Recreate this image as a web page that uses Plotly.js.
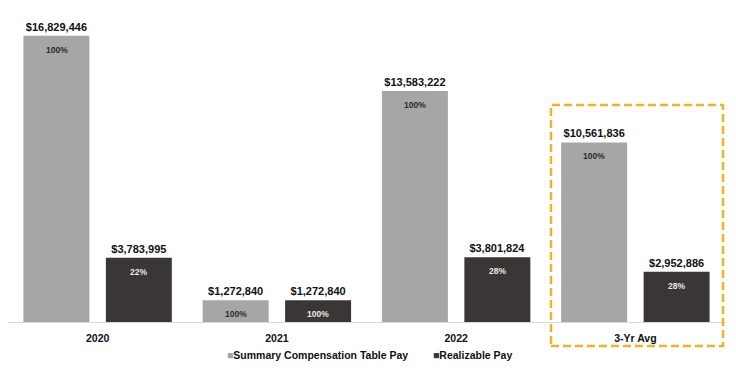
<!DOCTYPE html>
<html>
<head>
<meta charset="utf-8">
<script src="https://cdn.plot.ly/plotly-3.0.1.min.js"></script>
<style>html,body{margin:0;padding:0;background:#fff;}#chart{width:736px;height:375px;}</style>
</head>
<body>
<div id="chart"></div>
<script>
const categories = ["2020", "2021", "2022", "3-Yr Avg"];
const seriesNames = ["Summary Compensation Table Pay", "Realizable Pay"];
const sctPay = [16829446, 1272840, 13583222, 10561836];
const realizablePay = [3783995, 1272840, 3801824, 2952886];
const sctPct = ["100%", "100%", "100%", "100%"];
const realizablePct = ["22%", "100%", "28%", "28%"];

const colors = ["#a6a6a6", "#3a3635"];
const pctColors = ["#2a2a2a", "#e8e8e8"];
const FONT = "Liberation Sans, Arial, sans-serif";
const fmt = v => "$" + v.toLocaleString("en-US");

const series = [sctPay, realizablePay];
const pcts = [sctPct, realizablePct];

const traces = series.map((vals, i) => ({
  type: "bar",
  name: seriesNames[i],
  x: categories,
  y: vals,
  marker: {color: colors[i]},
  text: vals.map(fmt),
  textposition: "outside",
  textfont: {family: FONT, size: 11, color: "#111", weight: "bold"},
  constraintext: "none",
  cliponaxis: false,
  hoverinfo: "skip",
  showlegend: false
}));

const annotations = [];
pcts.forEach((arr, i) => {
  arr.forEach((p, j) => {
    annotations.push({
      x: j, y: series[i][j], xref: "x", yref: "y",
      xshift: i === 0 ? -41 : 41, yshift: -14,
      text: "<b>" + p + "</b>", showarrow: false,
      font: {family: FONT, size: 8.5, color: pctColors[i]},
      yanchor: "middle", xanchor: "center"
    });
  });
});
// legend as text
annotations.push({
  xref: "paper", yref: "paper", x: 0.561, y: -0.109, xanchor: "right", yanchor: "middle",
  showarrow: false,
  text: '<span style="color:' + colors[0] + '">■</span><b>' + seriesNames[0] + '</b>',
  font: {family: FONT, size: 10.5, color: "#111"}
});
annotations.push({
  xref: "paper", yref: "paper", x: 0.59, y: -0.109, xanchor: "left", yanchor: "middle",
  showarrow: false,
  text: '<span style="color:' + colors[1] + '">■</span><b>' + seriesNames[1] + '</b>',
  font: {family: FONT, size: 10.5, color: "#111"}
});

const layout = {
  width: 736, height: 375,
  margin: {l: 8, r: 11, t: 20, b: 53},
  paper_bgcolor: "#fff", plot_bgcolor: "#fff",
  barmode: "group",
  bargap: 0.08,
  bargroupgap: 0.2,
  showlegend: false,
  xaxis: {
    type: "category",
    range: [-0.5, 3.5],
    showline: true, linecolor: "#d9d9d9", linewidth: 1,
    ticks: "", showgrid: false, zeroline: false,
    ticklabelstandoff: 6,
    tickfont: {family: FONT, size: 10.5, color: "#111", weight: "bold"}
  },
  yaxis: {
    range: [0, 17760000],
    visible: false, showgrid: false, zeroline: false
  },
  annotations: annotations,
  shapes: [{
    type: "rect", xref: "paper", yref: "paper",
    x0: (551 - 8) / 717, x1: (723 - 8) / 717,
    y0: (322 - 346) / 302, y1: (322 - 105) / 302,
    line: {color: "#f0b323", width: 2.5, dash: "8px,4px"},
    fillcolor: "rgba(0,0,0,0)"
  }],
  font: {family: FONT}
};

Plotly.newPlot("chart", traces, layout, {staticPlot: true, displayModeBar: false});
</script>
</body>
</html>
